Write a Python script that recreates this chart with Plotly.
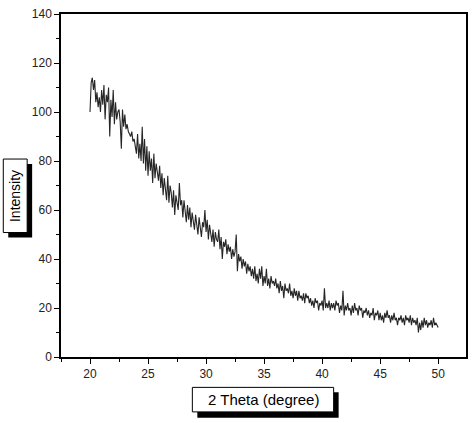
import plotly.graph_objects as go

# 2-theta grid start/step (degrees) and intensities
theta_start = 20.0
theta_step = 0.1
intensity = [
    100, 112, 114, 109, 113, 104, 108, 102, 106, 100,
    109, 103, 111, 97, 107, 104, 110, 90, 105, 98,
    109, 95, 104, 97, 100, 101, 96, 85, 101, 94,
    99, 93, 95, 92, 91, 90, 92, 88, 89, 86,
    83, 91, 81, 87, 80, 94, 79, 89, 76, 86,
    74, 84, 76, 81, 71, 83, 73, 79, 75, 72,
    78, 69, 75, 66, 73, 69, 64, 74, 63, 70,
    67, 61, 68, 58, 66, 63, 60, 71, 62, 64,
    57, 64, 58, 55, 62, 56, 61, 53, 59, 56,
    52, 58, 54, 50, 57, 52, 49, 55, 53, 60,
    51, 56, 48, 54, 49, 47, 52, 45, 51, 48,
    47, 52, 44, 49, 40, 47, 45, 48, 42, 46,
    43, 45, 40, 44, 41, 43, 50, 35, 42, 39,
    41, 36, 40, 37, 39, 34, 38, 35, 37, 33,
    36, 32, 37, 31, 34, 30, 36, 32, 37, 29,
    33, 30, 36, 29, 32, 28, 33, 30, 31, 29,
    32, 28, 30, 26, 31, 27, 29, 24, 30, 27,
    28, 26, 30, 25, 27, 24, 28, 25, 27, 23,
    27, 24, 25, 23, 26, 22, 26, 24, 25, 22,
    24, 21, 23, 20, 24, 22, 23, 19, 22, 21,
    23, 19, 28, 20, 22, 20, 23, 19, 22, 20,
    22, 19, 23, 21, 22, 18, 21, 19, 27, 17,
    21, 19, 22, 19, 20, 17, 21, 18, 22, 19,
    20, 17, 21, 19, 20, 16, 19, 18, 20, 17,
    19, 16, 18, 17, 20, 15, 18, 17, 19, 15,
    18, 15, 17, 14, 18, 16, 19, 16, 17, 14,
    17, 15, 18, 15, 16, 13, 16, 15, 17, 14,
    16, 13, 17, 15, 16, 14, 17, 13, 16, 14,
    15, 13, 16, 10, 14, 11, 15, 12, 16, 13,
    15, 12, 14, 13, 15, 12, 16, 13, 14, 13,
    12,
]
two_theta = [round(theta_start + theta_step * i, 2) for i in range(len(intensity))]

x_title = "2 Theta (degree)"
y_title = "Intensity"

FONT = "Liberation Sans, Arial, sans-serif"

fig = go.Figure()
fig.add_trace(go.Scatter(
    x=two_theta, y=intensity, mode="lines",
    line=dict(color="#262626", width=1.1),
    showlegend=False, hoverinfo="skip",
))

W, H = 475, 423
L, R, T, B = 61, 7, 7, 66
pw, ph = W - L - R, H - T - B


def px(xp):
    return (xp - L) / pw


def py(yp):
    return (H - B - yp) / ph


shapes = []
# y title box (shadow + box)
shapes.append(dict(type="rect", xref="paper", yref="paper",
                   x0=px(8), x1=px(32), y0=py(235), y1=py(160),
                   fillcolor="black", line=dict(width=0), layer="above"))
shapes.append(dict(type="rect", xref="paper", yref="paper",
                   x0=px(3), x1=px(27), y0=py(230), y1=py(155),
                   fillcolor="white", line=dict(color="black", width=1), layer="above"))
# x title box
shapes.append(dict(type="rect", xref="paper", yref="paper",
                   x0=px(198), x1=px(340), y0=py(419), y1=py(393),
                   fillcolor="black", line=dict(width=0), layer="above"))
shapes.append(dict(type="rect", xref="paper", yref="paper",
                   x0=px(193), x1=px(335), y0=py(413), y1=py(388),
                   fillcolor="white", line=dict(color="black", width=1), layer="above"))

annotations = [
    dict(text=y_title, xref="paper", yref="paper", x=px(15), y=py(192.5),
         showarrow=False, textangle=-90, xanchor="center", yanchor="middle",
         font=dict(family=FONT, size=14, color="black")),
    dict(text=x_title, xref="paper", yref="paper", x=px(264), y=py(400.5),
         showarrow=False, xanchor="center", yanchor="middle",
         font=dict(family=FONT, size=15, color="black")),
]

axis_common = dict(
    showline=True, linecolor="black", linewidth=1.5, mirror=True,
    ticks="outside", ticklen=5, tickwidth=1.2, tickcolor="black",
    showgrid=False, zeroline=False,
    tickfont=dict(family=FONT, size=12, color="#222"),
)

fig.update_layout(
    width=W, height=H,
    margin=dict(l=L, r=R, t=T, b=B),
    paper_bgcolor="white", plot_bgcolor="white",
    shapes=shapes, annotations=annotations,
    xaxis=dict(range=[17.5, 52.4], tick0=20, dtick=5, **axis_common,
               minor=dict(dtick=2.5, tick0=20, ticks="outside", ticklen=3,
                          tickcolor="black", tickwidth=1.2)),
    yaxis=dict(range=[0, 140], tick0=0, dtick=20, **axis_common,
               minor=dict(dtick=10, tick0=0, ticks="outside", ticklen=3,
                          tickcolor="black", tickwidth=1.2)),
)

fig.write_html("out.html")
